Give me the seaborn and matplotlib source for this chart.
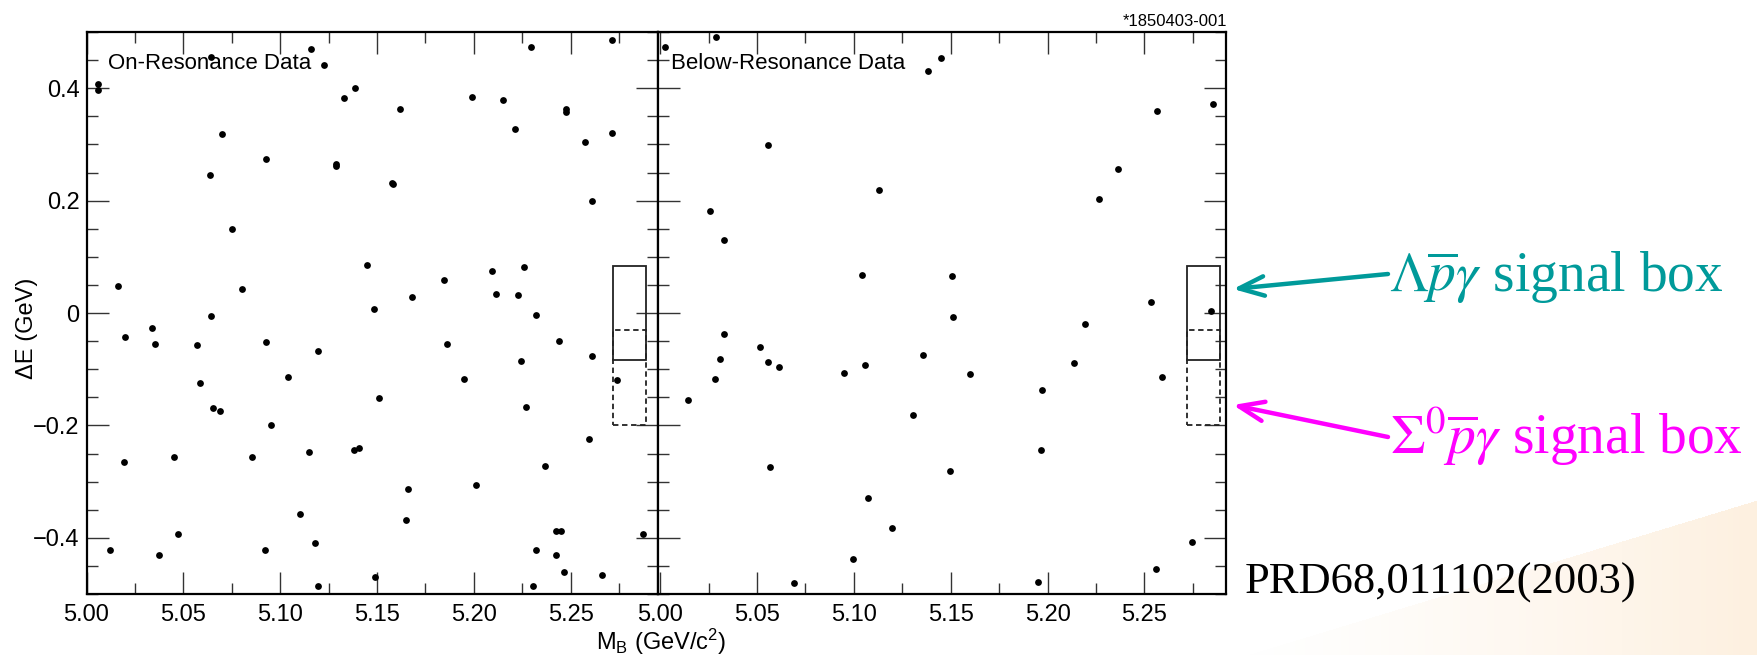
import numpy as np
import pandas as pd
import matplotlib
matplotlib.use("Agg")
import matplotlib.pyplot as plt
import seaborn as sns
from matplotlib.patches import Rectangle
from matplotlib.ticker import MultipleLocator, FuncFormatter, FixedLocator

# ---------------- data ----------------
on_mb = [5.0058, 5.0058, 5.0645, 5.1159, 5.1226, 5.1384, 5.1331, 5.0697, 5.0929, 5.0638,
         5.1286, 5.1290, 5.0750, 5.1448, 5.0164, 5.0805, 5.0645, 5.2295, 5.2712, 5.1992,
         5.2152, 5.1620, 5.2473, 5.2478, 5.2214, 5.2575, 5.2712, 5.1578, 5.1582, 5.2612,
         5.2095, 5.2260, 5.1848, 5.1679, 5.2116, 5.2228, 5.1485, 5.2319, 5.0339, 5.0198,
         5.0353, 5.0570, 5.0927, 5.1197, 5.1039, 5.0585, 5.0655, 5.0688, 5.0953, 5.0195,
         5.0451, 5.0853, 5.1149, 5.1379, 5.1405, 5.1102, 5.0470, 5.1179, 5.0120, 5.0375,
         5.0920, 5.1197, 5.1863, 5.2437, 5.2242, 5.2608, 5.1949, 5.2738, 5.1511, 5.2271,
         5.2595, 5.2365, 5.2009, 5.1662, 5.1650, 5.2422, 5.2451, 5.2875, 5.2322, 5.2424,
         5.2463, 5.2662, 5.1491, 5.2307]
on_de = [0.408, 0.397, 0.456, 0.470, 0.441, 0.401, 0.382, 0.319, 0.274, 0.245,
         0.265, 0.261, 0.149, 0.085, 0.048, 0.042, -0.006, 0.473, 0.486, 0.385,
         0.379, 0.363, 0.363, 0.357, 0.328, 0.304, 0.320, 0.232, 0.230, 0.199,
         0.074, 0.081, 0.059, 0.028, 0.034, 0.032, 0.007, -0.003, -0.026, -0.043,
         -0.055, -0.057, -0.052, -0.067, -0.113, -0.124, -0.169, -0.174, -0.199, -0.265,
         -0.256, -0.256, -0.248, -0.243, -0.240, -0.357, -0.393, -0.410, -0.422, -0.430,
         -0.422, -0.485, -0.055, -0.050, -0.085, -0.077, -0.118, -0.119, -0.151, -0.167,
         -0.224, -0.272, -0.306, -0.314, -0.368, -0.388, -0.388, -0.393, -0.421, -0.431,
         -0.460, -0.466, -0.470, -0.485]

below_mb = [5.0026, 5.0290, 5.1383, 5.1450, 5.0559, 5.1131, 5.0256, 5.0331, 5.1042, 5.1504,
            5.1512, 5.2565, 5.2855, 5.2362, 5.2264, 5.2534, 5.2843, 5.0328, 5.0142, 5.0283,
            5.0309, 5.0514, 5.0556, 5.0611, 5.0950, 5.1055, 5.1359, 5.1307, 5.0568, 5.1498,
            5.1073, 5.1199, 5.0995, 5.0692, 5.2195, 5.2136, 5.1600, 5.1969, 5.2588, 5.1965,
            5.2743, 5.2557, 5.1948]
below_de = [0.474, 0.491, 0.431, 0.454, 0.299, 0.219, 0.182, 0.130, 0.067, 0.065,
            -0.007, 0.360, 0.372, 0.257, 0.203, 0.019, 0.003, -0.038, -0.154, -0.118,
            -0.081, -0.061, -0.087, -0.096, -0.106, -0.093, -0.074, -0.182, -0.274, -0.281,
            -0.330, -0.382, -0.437, -0.481, -0.020, -0.089, -0.109, -0.137, -0.113, -0.243,
            -0.407, -0.456, -0.479]

box_mb = [5.272, 5.289]
lambda_box_de = [-0.084, 0.084]
sigma_box_de = [-0.199, -0.030]

x_ticks = [5.00, 5.05, 5.10, 5.15, 5.20, 5.25]
y_ticks = [-0.4, -0.2, 0.0, 0.2, 0.4]
panel_titles = ["On-Resonance Data", "Below-Resonance Data"]
x_label = "M$_{\\mathrm{B}}$ (GeV/c$^{2}$)"
y_label = "ΔE (GeV)"
figure_id = "*1850403-001"
lambda_label = r"$\Lambda\overline{p}\gamma$ signal box"
sigma_label = r"$\Sigma^{0}\overline{p}\gamma$ signal box"
reference_label = "PRD68,011102(2003)"

# ---------------- style ----------------
sns.set_theme(style="ticks")
plt.rcParams['font.family'] = ['Liberation Sans', 'DejaVu Sans']
plt.rcParams['mathtext.fontset'] = 'custom'
plt.rcParams['mathtext.rm'] = 'Liberation Sans'
plt.rcParams['mathtext.it'] = 'Liberation Sans:italic'
plt.rcParams['axes.unicode_minus'] = True

W, H = 1757, 655
fig = plt.figure(figsize=(W / 100, H / 100), dpi=100)
fig.patch.set_facecolor('white')

# background decoration (faint orange sweep bottom-right)
bg = fig.add_axes([0, 0, 1, 1], zorder=-5)
bg.set_xlim(0, W)
bg.set_ylim(H, 0)
bg.axis('off')
x0, x1, y0 = 1200, W, 420
xs = np.arange(x0, x1)
ys = np.arange(y0, H)
XX, YY = np.meshgrid(xs, ys)
yline = 660 - (XX - 1230) * (660 - 500) / (1757 - 1230)
inside = (YY > yline).astype(float)
fade = np.clip((XX - 1230) / (1757 - 1230), 0, 1) ** 1.3
img = np.zeros((len(ys), len(xs), 4))
img[..., 0] = 250 / 255
img[..., 1] = 205 / 255
img[..., 2] = 150 / 255
img[..., 3] = inside * fade * 0.30
bg.imshow(img, extent=(x0, x1, H, y0), aspect='auto', interpolation='bilinear')

left_ax = fig.add_axes([86.5 / W, 61 / H, 571 / W, 562 / H])
right_ax = fig.add_axes([657.5 / W, 61 / H, 568 / W, 562 / H])
scale = 1937.0
xlims = [(5.0, 5.0 + 571 / scale), (4.9986, 4.9986 + 568 / scale)]


def yfmt(v, pos):
    if abs(v) < 1e-9:
        return "0"
    return f"{v:.1f}".replace("-", "\u2212")


for i, (ax, mb, de) in enumerate([(left_ax, on_mb, on_de), (right_ax, below_mb, below_de)]):
    df = pd.DataFrame({"mb": mb, "de": de})
    sns.scatterplot(data=df, x="mb", y="de", ax=ax, color="black", s=24,
                    edgecolor=None, linewidth=0, zorder=3)
    ax.set_xlim(*xlims[i])
    ax.set_ylim(-0.5, 0.5)
    ax.set_xlabel("")
    ax.set_ylabel("")
    ax.set_facecolor("white")
    for sp in ax.spines.values():
        sp.set_visible(True)
        sp.set_linewidth(1.6)
        sp.set_color("black")
    ax.xaxis.set_major_locator(FixedLocator(x_ticks))
    ax.xaxis.set_minor_locator(MultipleLocator(0.025))
    ax.xaxis.set_major_formatter(FuncFormatter(lambda v, p: f"{v:.2f}"))
    ax.yaxis.set_major_locator(FixedLocator(y_ticks))
    ax.yaxis.set_minor_locator(MultipleLocator(0.05))
    ax.yaxis.set_major_formatter(FuncFormatter(yfmt))
    ax.tick_params(which="both", direction="in", top=True, right=True,
                   bottom=True, left=True, color="#333333", width=1.0)
    ax.tick_params(which="major", length=16)
    ax.tick_params(which="minor", length=8)
    ax.tick_params(axis="x", which="major", labelsize=17, pad=7, labelcolor="black")
    ax.tick_params(axis="y", which="major", labelsize=17, pad=5, labelcolor="black")
    if i == 1:
        ax.tick_params(axis="y", labelleft=False)

    # signal boxes
    ax.add_patch(Rectangle((box_mb[0], lambda_box_de[0]), box_mb[1] - box_mb[0],
                           lambda_box_de[1] - lambda_box_de[0], fill=False,
                           edgecolor="#222222", linewidth=1.3, zorder=2))
    ax.add_patch(Rectangle((box_mb[0], sigma_box_de[0]), box_mb[1] - box_mb[0],
                           sigma_box_de[1] - sigma_box_de[0], fill=False,
                           edgecolor="#222222", linewidth=1.3, linestyle=(0, (3, 2)),
                           zorder=2))

    ax.text(0.038 if i == 0 else 0.023, 0.935, panel_titles[i], transform=ax.transAxes,
            fontsize=16, ha="left", va="baseline", color="black", zorder=4)

# axis titles
fig.text(27 / W, 1 - 328 / H, y_label, rotation=90, ha="center", va="center",
         fontsize=17, color="black")
fig.text(596 / W, 1 - 627 / H, x_label, ha="left", va="top", fontsize=17, color="black")
fig.text(1227 / W, 1 - 26 / H, figure_id, ha="right", va="baseline", fontsize=12,
         color="black")

teal = "#009a9a"
magenta = "#ff00ff"
fig.text(1389 / W, 1 - 291 / H, lambda_label, ha="left", va="baseline", fontsize=40,
         color=teal, family=["Liberation Serif", "DejaVu Serif"], math_fontfamily="stix")
fig.text(1390 / W, 1 - 454 / H, sigma_label, ha="left", va="baseline", fontsize=40,
         color=magenta, family=["Liberation Serif", "DejaVu Serif"], math_fontfamily="stix")
fig.text(1245 / W, 1 - 594 / H, reference_label, ha="left", va="baseline", fontsize=32,
         color="black", family=["Liberation Serif", "DejaVu Serif"])

for tail, head, col in [((1388, 274), (1233, 289), teal), ((1388, 437), (1233, 405), magenta)]:
    fig.add_artist(matplotlib.patches.FancyArrowPatch(
        (tail[0] / W, 1 - tail[1] / H), (head[0] / W, 1 - head[1] / H),
        transform=fig.transFigure, arrowstyle="->,head_length=0.9,head_width=0.35",
        mutation_scale=20, linewidth=3.2, color=col, shrinkA=0, shrinkB=0))

fig.savefig("out.png", dpi=100, facecolor="white")
